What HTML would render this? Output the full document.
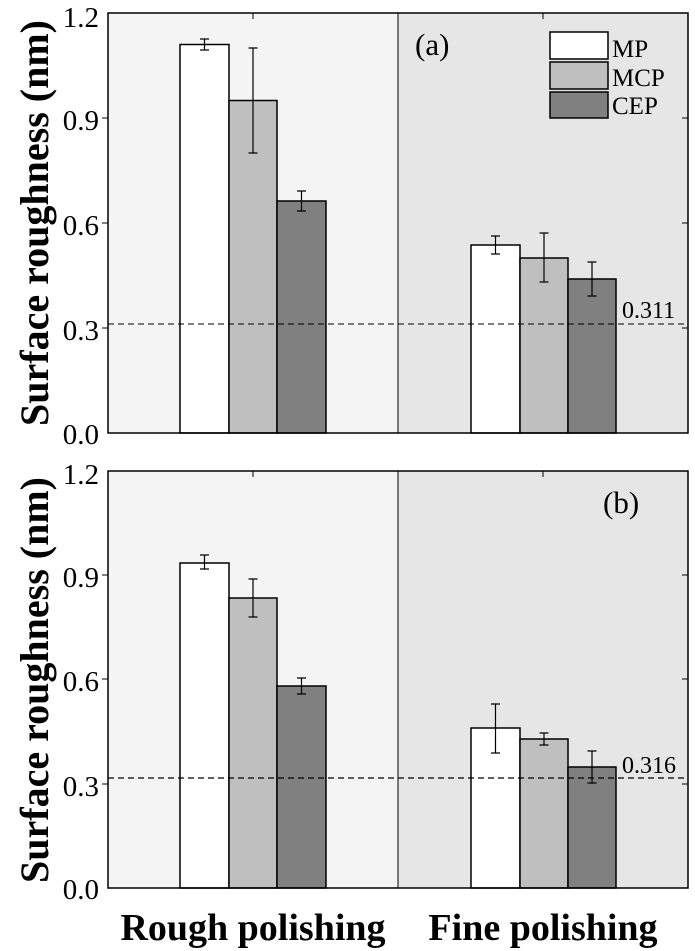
<!DOCTYPE html><html><head><style>body{margin:0;background:#fff}svg{display:block}</style></head><body>
<svg width="695" height="951" xmlns="http://www.w3.org/2000/svg" font-family="'Liberation Serif', serif">
<g id="a">
<rect x="108" y="13" width="290" height="420" fill="#f4f4f4"/>
<rect x="398" y="13" width="290" height="420" fill="#e6e6e6"/>
<line x1="398" y1="13" x2="398" y2="433" stroke="#000"/>
<g stroke="#000" stroke-width="1.5">
<rect x="180" y="44.5" width="49" height="388.5" fill="#fff"/>
<rect x="229" y="100.5" width="48" height="332.5" fill="#bfbfbf"/>
<rect x="277" y="201" width="49" height="232" fill="#808080"/>
<rect x="471" y="245" width="49" height="188" fill="#fff"/>
<rect x="520" y="258" width="48" height="175" fill="#bfbfbf"/>
<rect x="568" y="279" width="48" height="154" fill="#808080"/>
</g>
<g stroke="#000" stroke-width="1.2">
<path d="M204.5 39v11M200 39h9M200 50h9"/>
<path d="M253 48v105M248.5 48h9M248.5 153h9"/>
<path d="M301.5 191v20M297 191h9M297 211h9"/>
<path d="M495.5 236v18M491 236h9M491 254h9"/>
<path d="M544 233v49M539.5 233h9M539.5 282h9"/>
<path d="M592 262v34M587.5 262h9M587.5 296h9"/>
</g>
<line x1="108" y1="324" x2="688" y2="324" stroke="#000" stroke-dasharray="6,4"/>
<text x="622" y="318" font-size="24">0.311</text>
<rect x="108" y="13" width="580" height="420" fill="none" stroke="#000" stroke-width="1.5"/>
<g stroke="#000"><path d="M108 118h-6M108 223h-6M108 328h-6M253 13v6M543 13v6M688 118h-6M688 223h-6M688 328h-6"/></g>
<text x="415" y="55" font-size="31">(a)</text>
<g stroke="#000" stroke-width="1.5"><rect x="550" y="32" width="58" height="27" fill="#fff"/><rect x="550" y="62" width="58" height="27" fill="#bfbfbf"/><rect x="550" y="92" width="58" height="26" fill="#808080"/></g>
<g font-size="25"><text x="612" y="57">MP</text><text x="612" y="86">MCP</text><text x="612" y="114">CEP</text></g>
<g font-size="29" text-anchor="end"><text x="99" y="27">1.2</text><text x="99" y="130">0.9</text><text x="99" y="235">0.6</text><text x="99" y="340">0.3</text><text x="99" y="444">0.0</text></g>
<text transform="translate(48,223) rotate(-90)" font-size="40" font-weight="bold" text-anchor="middle">Surface roughness (nm)</text>
</g>
<g id="b">
<rect x="108" y="471" width="290" height="417" fill="#f4f4f4"/>
<rect x="398" y="471" width="290" height="417" fill="#e6e6e6"/>
<line x1="398" y1="471" x2="398" y2="888" stroke="#000"/>
<g stroke="#000" stroke-width="1.5">
<rect x="180" y="563" width="49" height="325" fill="#fff"/>
<rect x="229" y="598" width="48" height="290" fill="#bfbfbf"/>
<rect x="277" y="686" width="49" height="202" fill="#808080"/>
<rect x="471" y="728" width="49" height="160" fill="#fff"/>
<rect x="520" y="739" width="48" height="149" fill="#bfbfbf"/>
<rect x="568" y="767" width="48" height="121" fill="#808080"/>
</g>
<g stroke="#000" stroke-width="1.2">
<path d="M204.5 555v14M200 555h9M200 569h9"/>
<path d="M253 579v38M248.5 579h9M248.5 617h9"/>
<path d="M301.5 678v16M297 678h9M297 694h9"/>
<path d="M495.5 704v49M491 704h9M491 753h9"/>
<path d="M544 733v12M539.5 733h9M539.5 745h9"/>
<path d="M592 751v32M587.5 751h9M587.5 783h9"/>
</g>
<line x1="108" y1="778" x2="688" y2="778" stroke="#000" stroke-width="1.3" stroke-dasharray="6,4"/>
<text x="622" y="773" font-size="24">0.316</text>
<rect x="108" y="471" width="580" height="417" fill="none" stroke="#000" stroke-width="1.5"/>
<g stroke="#000"><path d="M108 575h-6M108 679h-6M108 784h-6M253 471v6M543 471v6M688 575h-6M688 679h-6M688 784h-6"/></g>
<text x="603" y="513" font-size="31">(b)</text>
<g font-size="29" text-anchor="end"><text x="99" y="484">1.2</text><text x="99" y="587">0.9</text><text x="99" y="691">0.6</text><text x="99" y="796">0.3</text><text x="99" y="899">0.0</text></g>
<text transform="translate(48,680) rotate(-90)" font-size="40" font-weight="bold" text-anchor="middle">Surface roughness (nm)</text>
</g>
<text x="253" y="940" font-size="38" font-weight="bold" text-anchor="middle">Rough polishing</text>
<text x="543" y="940" font-size="38" font-weight="bold" text-anchor="middle">Fine polishing</text>
</svg></body></html>
